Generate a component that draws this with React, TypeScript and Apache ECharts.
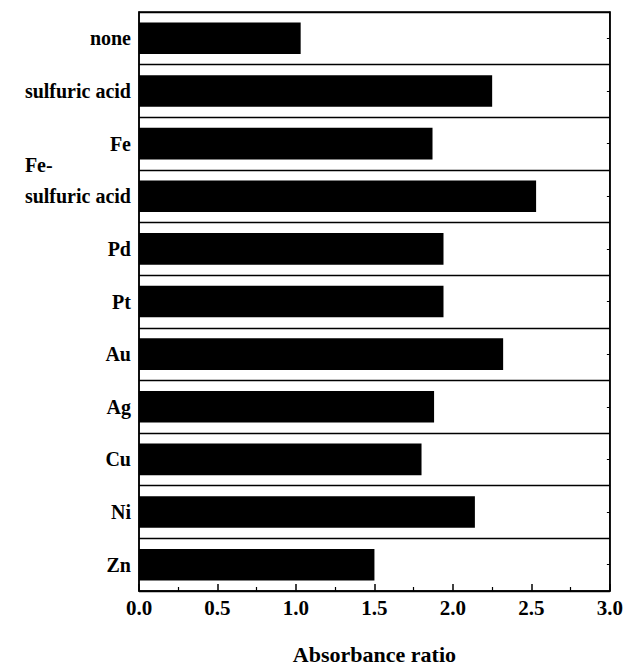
import React, { useEffect, useRef } from "react";
import * as echarts from "echarts";

const categories = ["none", "sulfuric acid", "Fe", "Fe-\nsulfuric acid", "Pd", "Pt", "Au", "Ag", "Cu", "Ni", "Zn"];
const values = [1.03, 2.25, 1.87, 2.53, 1.94, 1.94, 2.32, 1.88, 1.8, 2.14, 1.5];
const xTicks = { min: 0, max: 3, interval: 0.5 };
const axisTitle = "Absorbance ratio";

const FONT = "'Liberation Serif', 'DejaVu Serif', serif";

export default function App() {
  const ref = useRef<HTMLDivElement>(null);
  useEffect(() => {
    if (!ref.current) return;
    const chart = echarts.init(ref.current, null, { renderer: "svg" });
    chart.setOption({
      animation: false,
      backgroundColor: "#fff",
      grid: {
        left: 139,
        right: 13,
        top: 12,
        bottom: 72,
        show: true,
        borderColor: "#000",
        borderWidth: 1.5,
        backgroundColor: "transparent",
      },
      xAxis: {
        type: "value",
        min: xTicks.min,
        max: xTicks.max,
        interval: xTicks.interval,
        name: axisTitle,
        nameLocation: "middle",
        nameGap: 52,
        nameTextStyle: { fontFamily: FONT, fontWeight: "bold", fontSize: 22, color: "#000" },
        axisLine: { show: true, lineStyle: { color: "#000", width: 1.5 } },
        axisTick: { show: true, inside: true, length: 7, lineStyle: { color: "#000", width: 1.5 } },
        minorTick: { show: true, splitNumber: 2, length: 4, lineStyle: { color: "#000", width: 1.2 } },
        splitLine: { show: false },
        axisLabel: {
          fontFamily: FONT,
          fontWeight: "bold",
          fontSize: 21,
          color: "#000",
          margin: 6,
          formatter: (v: number) => v.toFixed(1),
        },
      },
      yAxis: [
        {
          type: "category",
          data: categories,
          inverse: true,
          axisLine: { show: true, lineStyle: { color: "#000", width: 1.5 } },
          axisTick: { show: false },
          splitLine: { show: true, lineStyle: { color: "#000", width: 1.3 } },
          axisLabel: {
            margin: 8,
            color: "#000",
            fontFamily: FONT,
            fontWeight: "bold",
            fontSize: 20,
            formatter: (v: string) => {
              if (v.indexOf("\n") >= 0) {
                const parts = v.split("\n");
                return "{a|" + parts[0] + "}\n{b|" + parts[1] + "}\n{c| }";
              }
              return v;
            },
            rich: {
              a: { align: "left", fontFamily: FONT, fontWeight: "bold", fontSize: 20, color: "#000", lineHeight: 31 },
              b: { align: "right", fontFamily: FONT, fontWeight: "bold", fontSize: 20, color: "#000", lineHeight: 31 },
              c: { fontFamily: FONT, fontSize: 20, lineHeight: 31 },
            },
          },
        },
        {
          type: "category",
          data: categories,
          inverse: true,
          position: "right",
          axisLine: { show: true, lineStyle: { color: "#000", width: 1.5 } },
          axisTick: { show: true, inside: true, alignWithLabel: true, length: 3, lineStyle: { color: "#000" } },
          axisLabel: { show: false },
          splitLine: { show: false },
        },
      ],
      series: [
        {
          type: "bar",
          data: values,
          yAxisIndex: 0,
          barCategoryGap: "40%",
          itemStyle: { color: "#000" },
        },
      ],
    });
    return () => chart.dispose();
  }, []);
  return <div ref={ref} style={{ width: 626, height: 670, position: "absolute", left: 0, top: 0 }} />;
}
